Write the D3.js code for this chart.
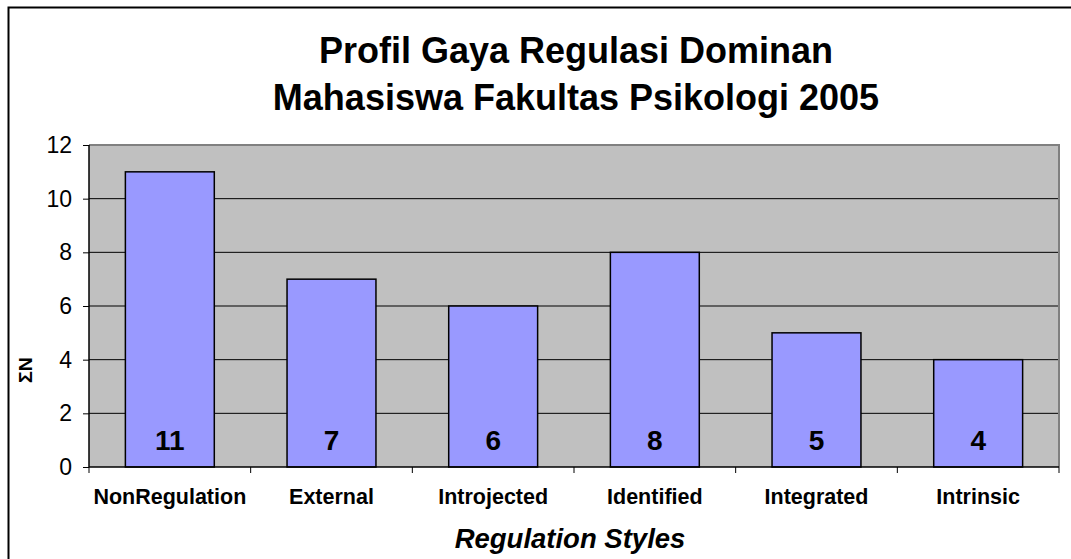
<!DOCTYPE html>
<html><head><meta charset="utf-8">
<script src="https://cdn.jsdelivr.net/npm/d3@7"></script>
<style>body{margin:0;background:#fff}svg{display:block}text{font-family:"Liberation Sans",Arial,sans-serif}</style>
</head><body>
<svg id="c" width="1071" height="559"></svg>
<script>
const categories = ["NonRegulation","External","Introjected","Identified","Integrated","Intrinsic"];
const values = [11,7,6,8,5,4];
const yTicks = [0,2,4,6,8,10,12];
const titleLines = ["Profil Gaya Regulasi Dominan","Mahasiswa Fakultas Psikologi 2005"];
const xTitle = "Regulation Styles";
const yTitle = "ΣN";

const svg = d3.select("#c");
const L=89,R=1059,T=145,B=467;
svg.append("rect").attr("x",8.5).attr("y",7.5).attr("width",1100).attr("height",600).attr("fill","#fff").attr("stroke","#000").attr("stroke-width",2);

const x = d3.scaleBand().domain(categories).range([L,R]).paddingInner(0.45).paddingOuter(0.225);
const y = d3.scaleLinear().domain([0,12]).range([B,T]);

svg.append("rect").attr("x",L).attr("y",T).attr("width",R-L).attr("height",B-T).attr("fill","#C0C0C0");
svg.append("g").selectAll("line").data(yTicks.filter(d=>d>0&&d<12)).join("line")
  .attr("x1",L).attr("x2",R).attr("y1",d=>y(d)).attr("y2",d=>y(d)).attr("stroke","#000").attr("stroke-width",1);
svg.append("path").attr("d",`M${L},${T}H${R}V${B}`).attr("fill","none").attr("stroke","#808080").attr("stroke-width",2);

svg.append("g").selectAll("rect").data(values).join("rect")
  .attr("x",(d,i)=>x(categories[i])).attr("width",x.bandwidth())
  .attr("y",d=>y(d)).attr("height",d=>B-y(d))
  .attr("fill","#9999FF").attr("stroke","#000").attr("stroke-width",1.5);

svg.append("g").selectAll("text").data(values).join("text")
  .attr("x",(d,i)=>x(categories[i])+x.bandwidth()/2).attr("y",450)
  .attr("text-anchor","middle").attr("font-weight","bold").attr("font-size",28).text(d=>d);

const ya = svg.append("g").attr("transform",`translate(${L},0)`)
  .call(d3.axisLeft(y).tickValues(yTicks).tickSize(6).tickPadding(11).tickFormat(d3.format("d")));
ya.select(".domain").attr("stroke","#000").attr("d",`M0,${T}V${B}`).attr("stroke-width",1.5);
ya.selectAll(".tick line").attr("stroke","#000");
ya.selectAll(".tick text").attr("font-size",23).attr("fill","#000").attr("font-family","Liberation Sans, Arial, sans-serif");

const bandEdges = categories.map(c=>x(c)-x.step()*x.paddingInner()/2).concat([R]);
svg.append("line").attr("x1",L).attr("x2",R).attr("y1",B).attr("y2",B).attr("stroke","#000").attr("stroke-width",1.5);
svg.append("g").selectAll("line").data(bandEdges).join("line")
  .attr("x1",d=>d).attr("x2",d=>d).attr("y1",B).attr("y2",B+6).attr("stroke","#000");
svg.append("g").selectAll("text").data(categories).join("text")
  .attr("x",d=>x(d)+x.bandwidth()/2).attr("y",504).attr("text-anchor","middle")
  .attr("font-weight","bold").attr("font-size",21.5).text(d=>d);

svg.append("g").selectAll("text").data(titleLines).join("text")
  .attr("x",576).attr("y",(d,i)=>63+i*47).attr("text-anchor","middle")
  .attr("font-weight","bold").attr("font-size",36).text(d=>d);

svg.append("text").attr("x",570).attr("y",548).attr("text-anchor","middle")
  .attr("font-weight","bold").attr("font-style","italic").attr("font-size",27.5).text(xTitle);

svg.append("text").attr("transform","translate(32,370) rotate(-90)").attr("text-anchor","middle")
  .attr("font-weight","bold").attr("font-size",18).attr("textLength",26).attr("lengthAdjust","spacingAndGlyphs").text(yTitle);
</script>
</body></html>
